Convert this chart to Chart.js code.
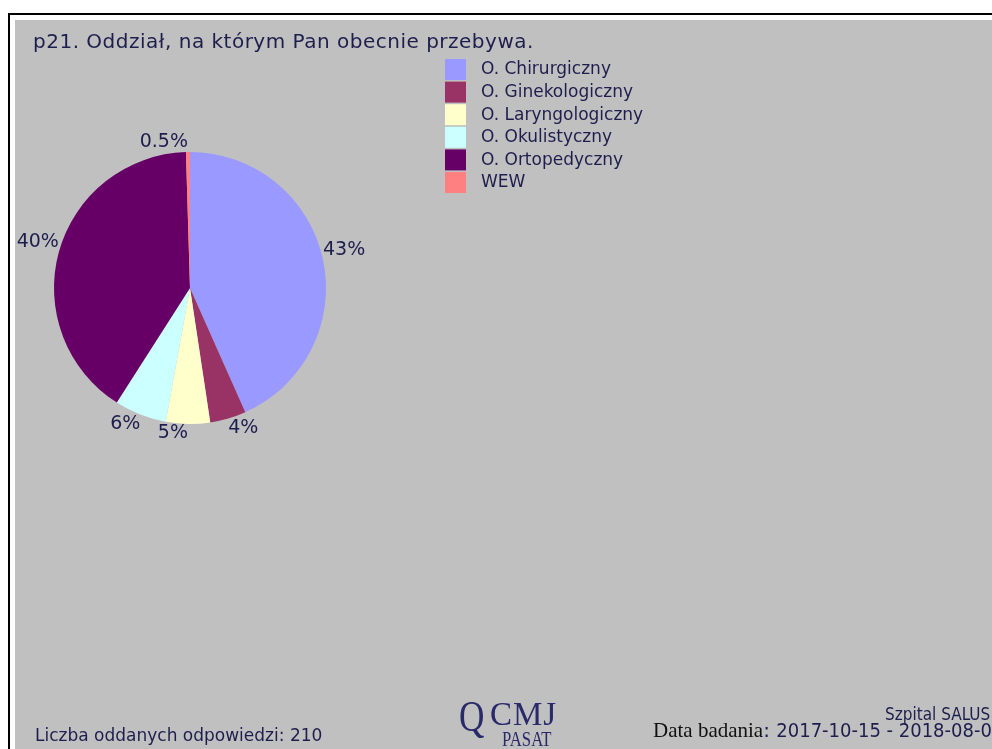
<!DOCTYPE html>
<html>
<head>
<meta charset="utf-8">
<script src="https://cdn.jsdelivr.net/npm/chart.js@4.4.0/dist/chart.umd.min.js"></script>
<style>
  html, body { margin: 0; padding: 0; background: #ffffff; overflow: hidden; width: 992px; height: 749px; }
  #frame { position: absolute; left: 8px; top: 13px; width: 1100px; height: 800px; border-left: 2px solid #000; border-top: 2px solid #000; }
  #panel { position: absolute; left: 15px; top: 20px; width: 1100px; height: 800px; background: #c0c0c0; }
  #c { position: absolute; left: 0; top: 0; }
  .txt { position: absolute; color: #1e1e4e; font-family: "DejaVu Sans", Verdana, sans-serif; white-space: nowrap; line-height: 1; }
  #title { left: 33px; top: 31px; font-size: 20px; letter-spacing: 0.5px; }
  #count { left: 35px; top: 727px; font-size: 17px; }
  #hosp { left: 885px; top: 706px; font-size: 17px; font-family: "DejaVu Sans Condensed", "Liberation Sans Narrow", sans-serif; }
  #date { left: 653px; top: 720px; font-size: 20px; }
  #date .serif { font-family: "Liberation Serif", "DejaVu Serif", serif; font-size: 21px; color: #111111; }
  #date .cond { font-family: "DejaVu Sans Condensed", "Liberation Sans Narrow", sans-serif; font-size: 20px; }
  #logoQ { left: 459px; top: 695px; font-size: 44px; font-family: "Liberation Serif", serif; color: #2a2a6a; transform: scaleX(0.8); transform-origin: left; }
  #logoCMJ { left: 490px; top: 698px; font-size: 33px; font-family: "Liberation Serif", serif; color: #2a2a6a; letter-spacing: 1px; }
  #logoP { left: 502px; top: 728px; font-size: 22px; font-family: "Liberation Serif", serif; color: #2a2a6a; transform: scaleX(0.76); transform-origin: left; }
</style>
</head>
<body>
<div id="frame"></div>
<div id="panel"></div>
<canvas id="c" width="992" height="749"></canvas>
<div class="txt" id="title"></div>
<div class="txt" id="count"></div>
<div class="txt" id="hosp"></div>
<div class="txt" id="date"><span class="serif">Data badania</span>: <span class="cond" id="dates"></span></div>
<div class="txt" id="logoQ">Q</div>
<div class="txt" id="logoCMJ">CMJ</div>
<div class="txt" id="logoP">PASAT</div>
<script>
const titleText = 'p21. Oddział, na którym Pan obecnie przebywa.';
const categories = ['O. Chirurgiczny', 'O. Ginekologiczny', 'O. Laryngologiczny', 'O. Okulistyczny', 'O. Ortopedyczny', 'WEW'];
const counts = [91, 9, 11, 13, 85, 1];
const responsesTotal = 210;
const hospitalName = 'Szpital SALUS';
const surveyDates = '2017-10-15 - 2018-08-08';
const sliceColors = ['#9999ff', '#993366', '#ffffcc', '#ccffff', '#660066', '#ff8080'];

document.getElementById('title').textContent = titleText;
document.getElementById('count').textContent = 'Liczba oddanych odpowiedzi: ' + responsesTotal;
document.getElementById('hosp').textContent = hospitalName;
document.getElementById('dates').textContent = surveyDates;

const textColor = '#1e1e4e';
const legendFont = '17px "DejaVu Sans", Verdana, sans-serif';
const labelFont = '19px "DejaVu Sans", Verdana, sans-serif';

const pieLabels = {
  id: 'pieLabels',
  afterDatasetsDraw(chart) {
    const ctx = chart.ctx;
    const meta = chart.getDatasetMeta(0);
    const data = chart.data.datasets[0].data;
    const total = data.reduce((a, b) => a + b, 0);
    ctx.save();
    ctx.font = labelFont;
    ctx.fillStyle = textColor;
    meta.data.forEach((arc, i) => {
      const p = arc.getProps(['x', 'y', 'startAngle', 'endAngle', 'outerRadius'], true);
      const mid = (p.startAngle + p.endAngle) / 2;
      const px = p.x + Math.cos(mid) * p.outerRadius;
      const py = p.y + Math.sin(mid) * p.outerRadius;
      const pct = data[i] / total * 100;
      const txt = (pct < 1 ? pct.toFixed(1) : Math.round(pct)) + '%';
      ctx.textAlign = Math.cos(mid) > 1e-3 ? 'left' : 'right';
      ctx.textBaseline = Math.sin(mid) < 0 ? 'bottom' : 'top';
      ctx.fillText(txt, px, py);
    });
    ctx.restore();
  }
};

const customLegend = {
  id: 'customLegend',
  afterDraw(chart) {
    const ctx = chart.ctx;
    const ds = chart.data.datasets[0];
    ctx.save();
    ctx.font = legendFont;
    ctx.textAlign = 'left';
    ctx.textBaseline = 'middle';
    chart.data.labels.forEach((lab, i) => {
      const y = 59 + i * 22.6;
      ctx.fillStyle = ds.backgroundColor[i];
      ctx.fillRect(445, y, 21, 21);
      ctx.fillStyle = textColor;
      ctx.fillText(lab, 481, y + 11);
    });
    ctx.restore();
  }
};

new Chart(document.getElementById('c'), {
  type: 'pie',
  data: {
    labels: categories,
    datasets: [{
      data: counts,
      backgroundColor: sliceColors,
      borderWidth: 0
    }]
  },
  options: {
    responsive: false,
    animation: false,
    layout: { padding: { left: 54, right: 666, top: 152, bottom: 325 } },
    plugins: {
      legend: { display: false },
      tooltip: { enabled: false },
      title: { display: false }
    }
  },
  plugins: [pieLabels, customLegend]
});
</script>
</body>
</html>
